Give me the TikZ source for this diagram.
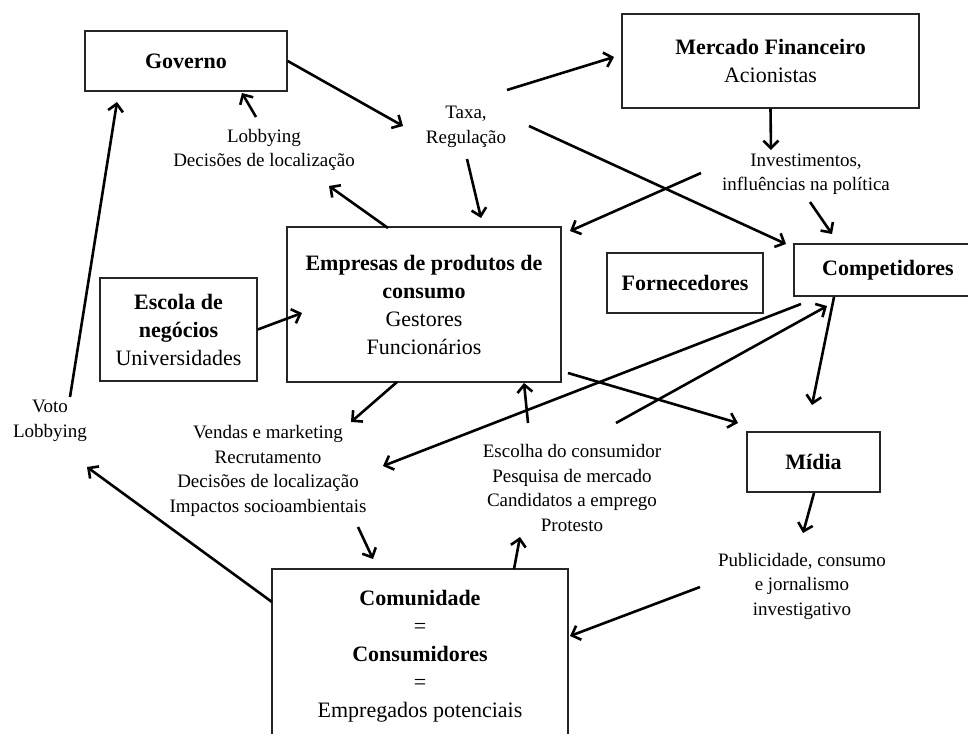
\documentclass[tikz,border=0pt]{standalone}
\usepackage{fontspec}
\setmainfont{Liberation Serif}
\usetikzlibrary{arrows.meta}
\tikzset{
  box/.style={draw=black!85, line width=1.4pt, align=center, inner sep=0pt,
    font=\fontsize{22}{28}\selectfont},
  lbl/.style={align=center, inner sep=0pt, font=\fontsize{19}{24.5}\selectfont},
  arr/.style={line width=2.6pt, -{Straight Barb[length=7.5pt,width=15pt]}}
}
\begin{document}
\begin{tikzpicture}[x=1pt,y=-1pt]
\useasboundingbox (0,0) rectangle (968,733);
% boxes
\node[box, minimum width=202, minimum height=60] (gov) at (186,61) {\textbf{Governo}};
\node[box, minimum width=297, minimum height=94] (mkt) at (770.5,61) {\textbf{Mercado Financeiro}\\Acionistas};
\node[box, minimum width=274, minimum height=155] (emp) at (424,304.5) {\textbf{Empresas de produtos de}\\\textbf{consumo}\\Gestores\\Funcionários};
\node[box, minimum width=157, minimum height=103] (esc) at (178.5,329.5) {\textbf{Escola de}\\\textbf{negócios}\\Universidades};
\node[box, minimum width=156, minimum height=60] (forn) at (685,283) {\textbf{Fornecedores}};
\node[box, minimum width=188, minimum height=52] (comp) at (888,270) {\textbf{Competidores}};
\node[box, minimum width=133, minimum height=60] (midia) at (813.5,462) {\textbf{Mídia}};
\node[box, minimum width=296, minimum height=174] (com) at (420,656) {\textbf{Comunidade}\\=\\\textbf{Consumidores}\\=\\Empregados potenciais};
% labels
\node[lbl] (lob) at (264,150) {Lobbying\\Decisões de localização};
\node[lbl] (taxa) at (466,127) {Taxa,\\Regulação};
\node[lbl] (inv) at (806,174) {Investimentos,\\influências na política};
\node[lbl] (voto) at (50,421) {Voto\\Lobbying};
\node[lbl] (vend) at (268,471) {Vendas e marketing\\Recrutamento\\Decisões de localização\\Impactos socioambientais};
\node[lbl] (esco) at (572,488) {Escolha do consumidor\\Pesquisa de mercado\\Candidatos a emprego\\Protesto};
\node[lbl] (pub) at (802,586) {Publicidade, consumo\\e jornalismo\\investigativo};
% connectors
\draw[arr] (gov.east) -- ([shift={(-63,-1)}]taxa.center);
\draw[arr] ([shift={(-8,-33)}]lob.center) -- ([shift={(56,32)}]gov.center);
\draw[arr] ([shift={(-36,-76.5)}]emp.center) -- ([shift={(65,36)}]lob.center);
\draw[arr] ([shift={(1,32)}]taxa.center) -- ([shift={(57,-86.5)}]emp.center);
\draw[arr] ([shift={(41,-37)}]taxa.center) -- ([shift={(-156.5,-4)}]mkt.center);
\draw[arr] ([shift={(63,-1)}]taxa.center) -- ([shift={(-102,-26)}]comp.center);
\draw[arr] (mkt.south) -- ([shift={(-35,-24)}]inv.center);
\draw[arr] ([shift={(-105,-1)}]inv.center) -- ([shift={(146,-73.5)}]emp.center);
\draw[arr] ([shift={(4,28)}]inv.center) -- ([shift={(-56,-36)}]comp.center);
\draw[arr] (esc.east) -- ([shift={(-122,8.5)}]emp.center);
\draw[arr] ([shift={(20,-24)}]voto.center) -- ([shift={(-69,41)}]gov.center);
\draw[arr] ([shift={(-148,-54)}]com.center) -- ([shift={(37,46)}]voto.center);
\draw[arr] ([shift={(-27,77.5)}]emp.center) -- ([shift={(83,-49)}]vend.center);
\draw[arr] ([shift={(-87,34)}]comp.center) -- ([shift={(115,-5)}]vend.center);
\draw[arr] ([shift={(44,-65)}]esco.center) -- ([shift={(-61,36)}]comp.center);
\draw[arr] ([shift={(-54,27)}]comp.center) -- ([shift={(-1.5,-57)}]midia.center);
\draw[arr] ([shift={(144,68.5)}]emp.center) -- ([shift={(-75.5,-39)}]midia.center);
\draw[arr] ([shift={(-44,-65)}]esco.center) -- ([shift={(100,78.5)}]emp.center);
\draw[arr] ([shift={(94,-87)}]com.center) -- ([shift={(-52,49)}]esco.center);
\draw[arr] ([shift={(90,56)}]vend.center) -- ([shift={(-47,-97)}]com.center);
\draw[arr] ([shift={(0.5,31)}]midia.center) -- ([shift={(1,-53)}]pub.center);
\draw[arr] ([shift={(-102,1)}]pub.center) -- ([shift={(150,-20)}]com.center);
\end{tikzpicture}
\end{document}
